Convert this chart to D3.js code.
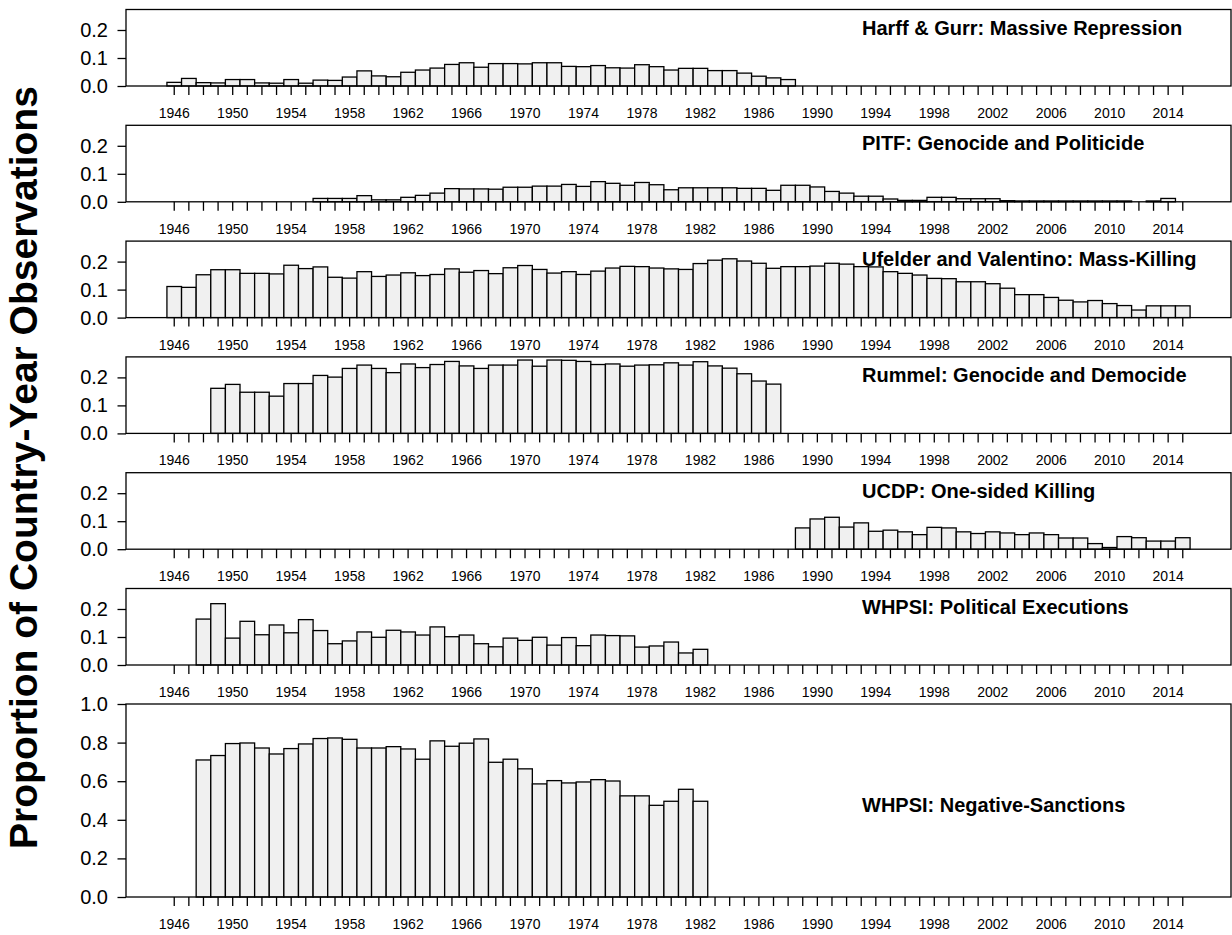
<!DOCTYPE html>
<html><head><meta charset="utf-8">
<script src="https://cdn.jsdelivr.net/npm/d3@7"></script>
<style>
body{margin:0;background:#fff}
svg{display:block}
text{font-family:"Liberation Sans",Arial,Helvetica,sans-serif;fill:#000}
</style>
</head><body>
<svg id="chart" width="1232" height="935"></svg>
<script>
// ---------- DATA ----------
const years = [1946,1947,1948,1949,1950,1951,1952,1953,1954,1955,1956,1957,1958,1959,1960,1961,1962,1963,1964,1965,
1966,1967,1968,1969,1970,1971,1972,1973,1974,1975,1976,1977,1978,1979,1980,1981,1982,1983,1984,1985,
1986,1987,1988,1989,1990,1991,1992,1993,1994,1995,1996,1997,1998,1999,2000,2001,2002,2003,2004,2005,
2006,2007,2008,2009,2010,2011,2012,2013,2014,2015];

const yearTickLabels = [1946,1950,1954,1958,1962,1966,1970,1974,1978,1982,1986,1990,1994,1998,2002,2006,2010,2014];

const panelTitles = [
  "Harff & Gurr: Massive Repression",
  "PITF: Genocide and Politicide",
  "Ufelder and Valentino: Mass-Killing",
  "Rummel: Genocide and Democide",
  "UCDP: One-sided Killing",
  "WHPSI: Political Executions",
  "WHPSI: Negative-Sanctions"
];

const smallYTicks = [0, 0.1, 0.2];
const bigYTicks = [0, 0.2, 0.4, 0.6, 0.8, 1.0];

const harffGurr = [.013,.027,.012,.011,.023,.023,.011,.010,.023,.010,.021,.020,.032,.054,.036,.033,.049,.057,.064,.077,
.083,.067,.080,.080,.079,.083,.083,.070,.069,.073,.065,.064,.076,.069,.057,.063,.063,.055,.055,.046,
.035,.029,.023,0,0,0,0,0,0,0,0,0,0,0,0,0,0,0,0,0,
0,0,0,0,0,0,0,0,0,0];

const pitf = [0,0,0,0,0,0,0,0,0,0,.012,.012,.012,.022,.007,.007,.016,.023,.031,.047,
.046,.046,.045,.052,.052,.056,.056,.062,.055,.072,.066,.059,.069,.061,.043,.050,.050,.050,.050,.048,
.048,.041,.059,.059,.053,.037,.031,.020,.020,.010,.005,.005,.016,.016,.011,.011,.011,.004,.003,.003,
.003,.003,.003,.003,.003,.003,0,.003,.012,0];

const ufelder = [.111,.108,.153,.171,.171,.158,.158,.156,.187,.175,.181,.144,.141,.164,.147,.152,.160,.150,.154,.174,
.162,.168,.157,.178,.186,.172,.159,.164,.154,.166,.177,.183,.182,.177,.174,.172,.193,.205,.210,.202,
.194,.176,.182,.182,.184,.194,.191,.182,.181,.164,.158,.152,.140,.139,.128,.128,.121,.105,.082,.082,
.072,.062,.056,.061,.050,.043,.027,.042,.042,.042];

const rummel = [0,0,0,.161,.175,.147,.147,.133,.178,.178,.207,.201,.232,.244,.232,.217,.248,.235,.246,.257,
.241,.232,.244,.244,.262,.240,.262,.261,.257,.246,.248,.240,.244,.245,.252,.244,.256,.241,.233,.213,
.187,.176,0,0,0,0,0,0,0,0,0,0,0,0,0,0,0,0,0,0,
0,0,0,0,0,0,0,0,0,0];

const ucdp = [0,0,0,0,0,0,0,0,0,0,0,0,0,0,0,0,0,0,0,0,
0,0,0,0,0,0,0,0,0,0,0,0,0,0,0,0,0,0,0,0,
0,0,0,.076,.108,.114,.079,.094,.064,.068,.062,.052,.078,.076,.062,.056,.062,.058,.052,.058,
.052,.040,.040,.020,.006,.045,.041,.029,.029,.041];

const whpsiExec = [0,0,.164,.219,.096,.156,.108,.143,.115,.162,.123,.076,.086,.118,.099,.124,.118,.107,.136,.101,
.107,.076,.065,.096,.088,.099,.071,.098,.069,.107,.105,.104,.064,.068,.082,.043,.056,0,0,0,
0,0,0,0,0,0,0,0,0,0,0,0,0,0,0,0,0,0,0,0,
0,0,0,0,0,0,0,0,0,0];

const whpsiNeg = [0,0,.710,.733,.795,.798,.772,.741,.769,.793,.821,.824,.817,.772,.772,.779,.767,.714,.809,.781,
.797,.819,.698,.714,.664,.586,.603,.591,.596,.608,.601,.524,.524,.475,.496,.558,.496,0,0,0,
0,0,0,0,0,0,0,0,0,0,0,0,0,0,0,0,0,0,0,0,
0,0,0,0,0,0,0,0,0,0];

const seriesList = [harffGurr, pitf, ufelder, rummel, ucdp, whpsiExec, whpsiNeg];

// ---------- LAYOUT ----------
const svg = d3.select("#chart");
const boxLeft = 126, boxRight = 1231;
const unit = (boxRight - boxLeft) / 75.6;
const x = d3.scaleBand().domain(years)
  .range([boxLeft + 2.8 * unit, boxLeft + 72.8 * unit]).padding(0);

const panels = [];
for (let i = 0; i < 6; i++) {
  const zero = 86 + 115.8 * i;
  panels.push({zero, top: zero - 76.5, max: 0.2732, ticks: smallYTicks, titleY: zero - 51.5});
}
panels.push({zero: 897, top: 704, max: 1.0, ticks: bigYTicks, titleY: 812});

const font = '"Liberation Sans",Arial,Helvetica,sans-serif';

panels.forEach((p, i) => {
  const data = seriesList[i];
  const y = d3.scaleLinear().domain([0, p.max]).range([p.zero, p.top]);
  const g = svg.append("g");

  // bars
  g.selectAll("rect.bar").data(years).join("rect")
    .attr("class", "bar")
    .attr("x", d => x(d))
    .attr("width", x.bandwidth())
    .attr("y", (d, k) => y(data[k]))
    .attr("height", (d, k) => p.zero - y(data[k]))
    .attr("fill", "#f0f0f0")
    .attr("stroke", "#000")
    .attr("stroke-width", 1.3);

  // box
  g.append("rect")
    .attr("x", boxLeft).attr("y", p.top)
    .attr("width", boxRight - boxLeft).attr("height", p.zero - p.top)
    .attr("fill", "none").attr("stroke", "#000").attr("stroke-width", 1.3);

  // y axis
  const ya = g.append("g").attr("transform", `translate(${boxLeft},0)`)
    .call(d3.axisLeft(y).tickValues(p.ticks).tickFormat(d3.format(".1f"))
      .tickSize(8.5).tickPadding(9.5));
  ya.select(".domain").remove();
  ya.selectAll("line").attr("stroke", "#000").attr("stroke-width", 1.3);
  ya.selectAll("text").style("font-family", font).style("font-size", "20px").attr("fill", "#000");

  // x axis
  const xa = g.append("g").attr("transform", `translate(0,${p.zero})`)
    .call(d3.axisBottom(x).tickSize(9).tickPadding(13)
      .tickFormat(d => yearTickLabels.includes(d) ? String(d) : ""));
  xa.select(".domain").remove();
  xa.selectAll("line").attr("stroke", "#000").attr("stroke-width", 1.3);
  xa.selectAll("text").style("font-family", font).style("font-size", "14px").attr("fill", "#000");

  // title
  g.append("text")
    .attr("x", 862).attr("y", p.titleY)
    .style("font-size", "20px").style("font-weight", "bold")
    .text(panelTitles[i]);
});

// y-axis title
svg.append("text")
  .attr("transform", "translate(37,467.5) rotate(-90)")
  .attr("text-anchor", "middle")
  .style("font-size", "39px").style("font-weight", "bold")
  .text("Proportion of Country-Year Observations");
</script>
</body></html>
